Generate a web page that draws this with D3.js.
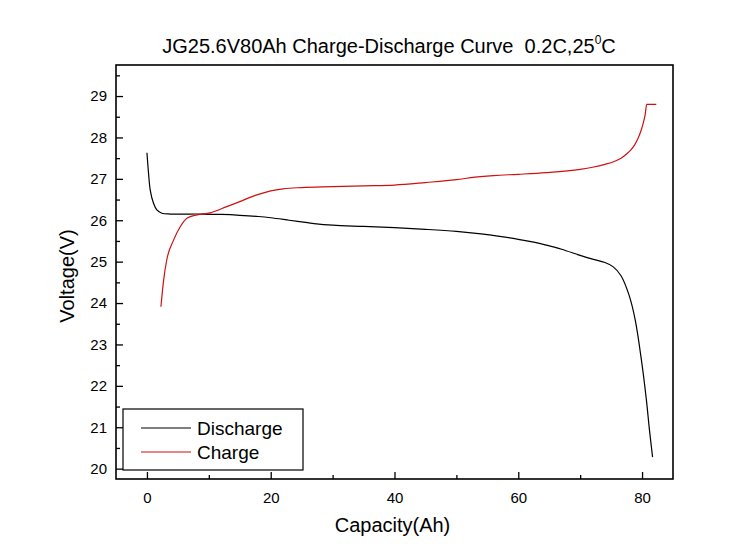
<!DOCTYPE html>
<html>
<head>
<meta charset="utf-8">
<script src="https://cdn.jsdelivr.net/npm/d3@7"></script>
<style>
  html, body { margin: 0; padding: 0; background: #fff; }
  svg { display: block; font-family: "Liberation Sans", Arial, sans-serif; }
  .pre { white-space: pre; }
</style>
</head>
<body>
<svg id="chart" width="750" height="560"></svg>
<script>
const titleMain = "JG25.6V80Ah Charge-Discharge Curve  0.2C,25";
const titleSup = "0";
const titleEnd = "C";
const xLabel = "Capacity(Ah)";
const yLabel = "Voltage(V)";
const seriesNames = ["Discharge", "Charge"];
const seriesColors = ["#000000", "#cc1111"];

const xTicks = [0, 20, 40, 60, 80];
const xMinorTicks = [10, 30, 50, 70];
const yTicks = [20, 21, 22, 23, 24, 25, 26, 27, 28, 29];
const yMinorTicks = [20.5, 21.5, 22.5, 23.5, 24.5, 25.5, 26.5, 27.5, 28.5, 29.5];

const dischargeCap = [0, 0.26, 0.53, 1.06, 1.6, 2.4, 3.8, 6, 9, 12, 15, 18, 20, 23, 25, 27, 30, 35, 40, 45, 50, 54, 57, 60, 62.5, 64.5, 67, 70, 72, 74, 75.3, 76.6, 77.9, 78.9, 79.9, 80.7, 81.2, 81.7];
const dischargeV   = [27.63, 27.13, 26.73, 26.41, 26.25, 26.17, 26.15, 26.15, 26.15, 26.14, 26.12, 26.09, 26.06, 26.0, 25.96, 25.92, 25.88, 25.85, 25.82, 25.78, 25.73, 25.67, 25.61, 25.54, 25.47, 25.40, 25.30, 25.15, 25.06, 24.98, 24.88, 24.66, 24.19, 23.59, 22.62, 21.66, 20.93, 20.28];

const chargeCap = [2.26, 2.7, 3.2, 4.3, 5.4, 6.45, 8.1, 10.2, 12.9, 15, 17.5, 20, 22, 25, 30, 35, 40, 45, 50, 53, 56, 60, 64.5, 70, 72, 74, 75.5, 76.6, 77.5, 78.2, 78.8, 79.3, 79.8, 80.2, 80.5, 80.75, 82.3];
const chargeV   = [23.91, 24.56, 25.04, 25.52, 25.85, 26.05, 26.13, 26.18, 26.33, 26.45, 26.6, 26.71, 26.76, 26.79, 26.81, 26.83, 26.85, 26.91, 26.98, 27.04, 27.08, 27.11, 27.15, 27.23, 27.28, 27.35, 27.42, 27.5, 27.6, 27.7, 27.82, 27.96, 28.15, 28.35, 28.55, 28.8, 28.8];

const svg = d3.select("#chart");
const L = 116, T = 65, R = 673, B = 479;

const x = d3.scaleLinear().domain([-5, 85]).range([L, R]);
const y = d3.scaleLinear().domain([19.75, 29.75]).range([B, T]);

// Title
const title = svg.append("text")
  .attr("class", "pre")
  .attr("x", 389).attr("y", 53)
  .attr("text-anchor", "middle")
  .attr("font-size", 20).attr("fill", "#000");
title.append("tspan").text(titleMain);
title.append("tspan").attr("font-size", 12).attr("dy", -9).text(titleSup);
title.append("tspan").attr("dy", 9).text(titleEnd);

// X axis
const xAxis = d3.axisBottom(x).tickValues(xTicks).tickSize(-7).tickPadding(13).tickFormat(d3.format("d"));
const gx = svg.append("g").attr("transform", `translate(0,${B})`).call(xAxis);
gx.select(".domain").remove();
gx.selectAll("text").attr("font-size", 15).attr("font-family", "Liberation Sans, Arial, sans-serif").attr("fill", "#000");
gx.selectAll("line").attr("stroke", "#000").attr("stroke-width", 1.3);
const xAxisMinor = d3.axisBottom(x).tickValues(xMinorTicks).tickSize(-4).tickFormat("");
const gxm = svg.append("g").attr("transform", `translate(0,${B})`).call(xAxisMinor);
gxm.select(".domain").remove();
gxm.selectAll("line").attr("stroke", "#000").attr("stroke-width", 1.3);

// Y axis
const yAxis = d3.axisLeft(y).tickValues(yTicks).tickSize(-7).tickPadding(9).tickFormat(d3.format("d"));
const gy = svg.append("g").attr("transform", `translate(${L},0)`).call(yAxis);
gy.select(".domain").remove();
gy.selectAll("text").attr("font-size", 15).attr("font-family", "Liberation Sans, Arial, sans-serif").attr("fill", "#000");
gy.selectAll("line").attr("stroke", "#000").attr("stroke-width", 1.3);
const yAxisMinor = d3.axisLeft(y).tickValues(yMinorTicks).tickSize(-4).tickFormat("");
const gym = svg.append("g").attr("transform", `translate(${L},0)`).call(yAxisMinor);
gym.select(".domain").remove();
gym.selectAll("line").attr("stroke", "#000").attr("stroke-width", 1.3);

// Frame
svg.append("rect")
  .attr("x", L).attr("y", T).attr("width", R - L).attr("height", B - T)
  .attr("fill", "none").attr("stroke", "#000").attr("stroke-width", 1.6);

// Axis labels
svg.append("text").attr("x", (L + R) / 2 - 2).attr("y", 532)
  .attr("text-anchor", "middle").attr("font-size", 20).text(xLabel);
svg.append("text")
  .attr("transform", `translate(74,${(T + B) / 2 + 4}) rotate(-90)`)
  .attr("text-anchor", "middle").attr("font-size", 20).text(yLabel);

// Lines
const lineD = d3.line().x(d => x(d[0])).y(d => y(d[1])).curve(d3.curveCatmullRom.alpha(0.5));
const lineC = d3.line().x(d => x(d[0])).y(d => y(d[1])).curve(d3.curveMonotoneX);
const dischargeData = dischargeCap.map((c, i) => [c, dischargeV[i]]);
const chargeData = chargeCap.map((c, i) => [c, chargeV[i]]);

svg.append("path").datum(dischargeData).attr("d", lineD)
  .attr("fill", "none").attr("stroke", seriesColors[0]).attr("stroke-width", 1.2);
svg.append("path").datum(chargeData).attr("d", lineC)
  .attr("fill", "none").attr("stroke", seriesColors[1]).attr("stroke-width", 1.2);

// Legend
const lg = svg.append("g");
lg.append("rect").attr("x", 123).attr("y", 409).attr("width", 180).attr("height", 61)
  .attr("fill", "#fff").attr("stroke", "#000").attr("stroke-width", 1.2);
seriesNames.forEach((name, i) => {
  const yy = 428 + i * 24;
  lg.append("line").attr("x1", 141).attr("x2", 191).attr("y1", yy).attr("y2", yy)
    .attr("stroke", seriesColors[i]).attr("stroke-width", 1.2);
  lg.append("text").attr("x", 197).attr("y", yy + 7).attr("font-size", 19).text(name);
});
</script>
</body>
</html>
